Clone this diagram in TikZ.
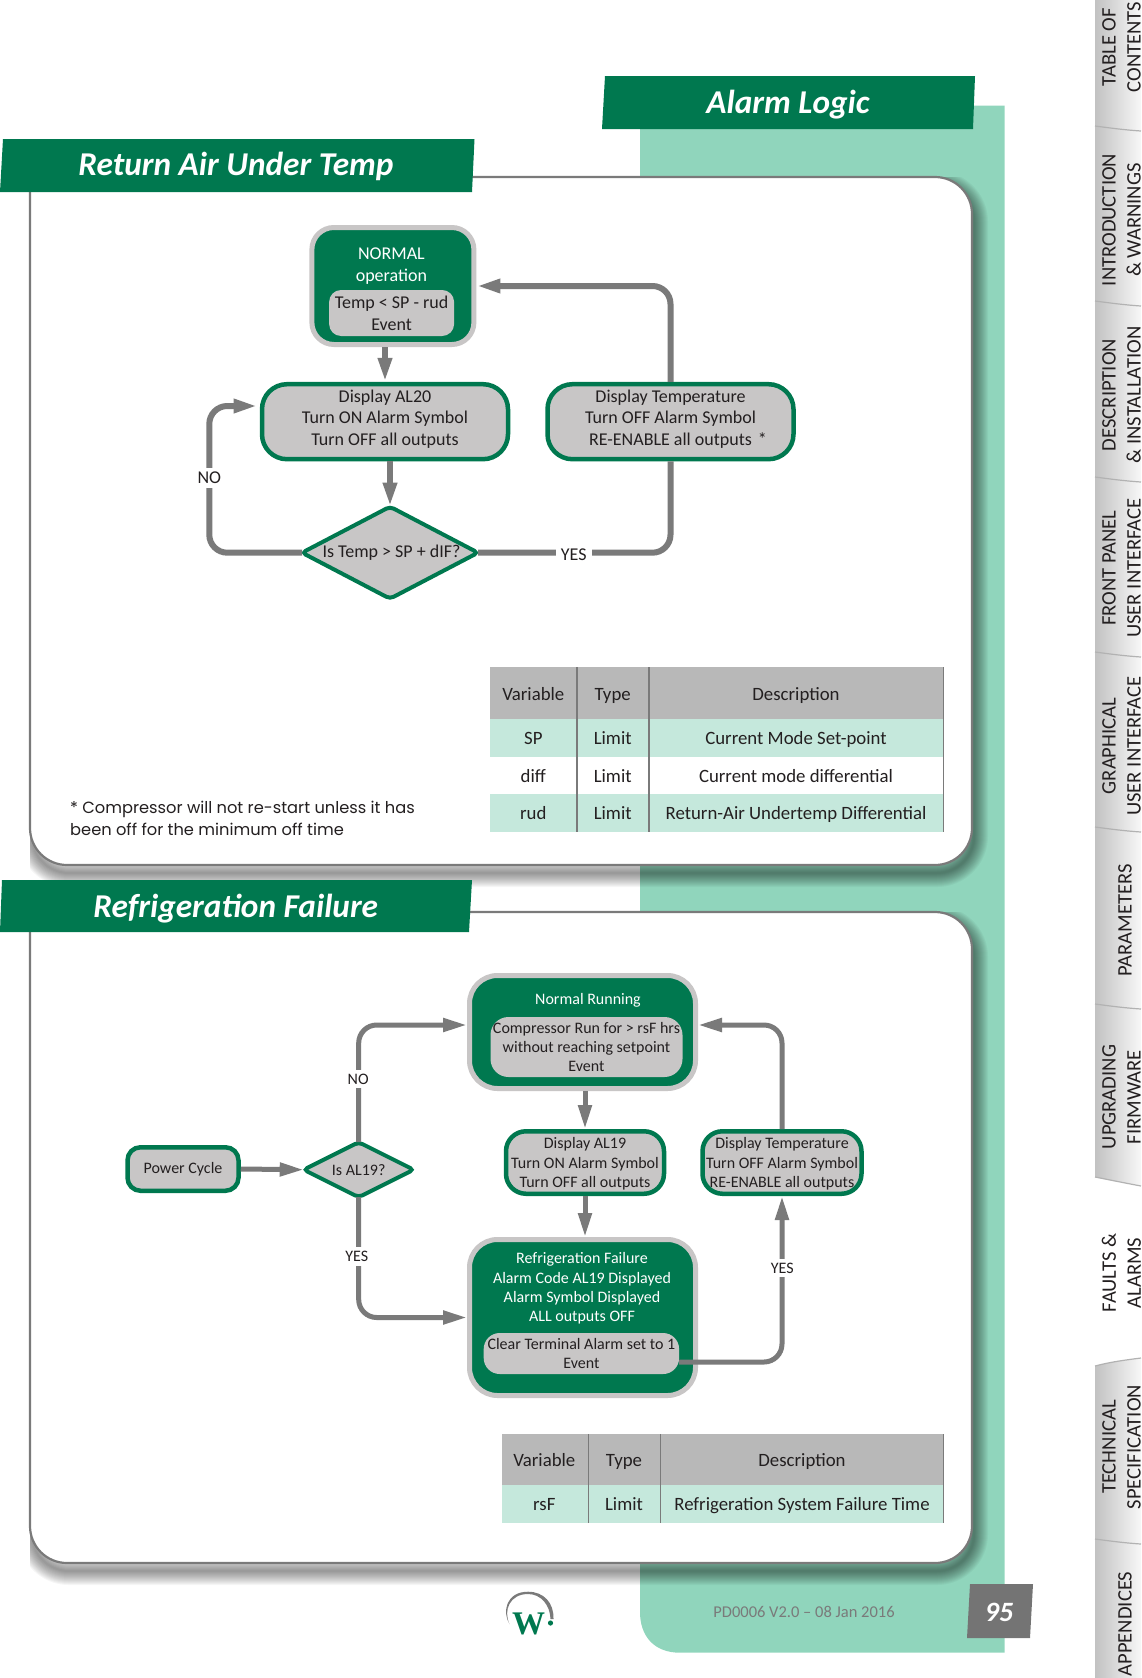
\documentclass[tikz,border=0pt]{standalone}
\usepackage{fontspec}
\setmainfont{Carlito}
\newfontfamily\noteface{Poppins}
\newfontfamily\logoface{Liberation Serif}
\usetikzlibrary{arrows.meta,shapes.geometric}

\definecolor{wgreen}{HTML}{00784F}
\definecolor{wmint}{HTML}{90D5BC}
\definecolor{wpale}{HTML}{C5E8DC}
\definecolor{wgray}{HTML}{C8C6C6}
\definecolor{warrow}{HTML}{7A7A7A}
\definecolor{whead}{HTML}{B8B8B8}
\definecolor{wink}{HTML}{231F20}

\tikzset{
  normalbox/.style={rectangle,draw=wgray,fill=wgreen,line width=5pt,inner sep=0pt},
  statebox/.style={rectangle,draw=wgreen,fill=wgray,line width=4.5pt,inner sep=0pt,text=wink,align=center},
  eventbox/.style={rectangle,fill=wgray,inner sep=0pt,text=wink,align=center},
  decision/.style={diamond,draw=wgreen,fill=wgray,line width=4pt,inner sep=0pt,outer sep=0pt,rounded corners=4pt,text=wink},
  flowline/.style={draw=warrow,line width=6pt,rounded corners=18pt},
  flowarrow/.style={flowline,-{Triangle[length=24pt,width=13pt]}},
  flowlabel/.style={fill=white,inner xsep=5pt,inner ysep=4pt,text=wink},
  fontA/.style={font=\fontsize{18}{21.7}\selectfont},
  fontB/.style={font=\fontsize{16}{19.2}\selectfont},
  whitetext/.style={text=white,align=center},
  bannertext/.style={text=white,font=\fontsize{33.3}{36}\selectfont\bfseries\itshape},
  tablehead/.style={text=wink,text height=12pt,text depth=4pt,font=\fontsize{18.8}{22}\selectfont},
  tablabel/.style={rotate=90,align=center,text=wink,font=\fontsize{20.6}{25}\selectfont},
  tabline/.style={draw=black!30,line width=1.2pt},
  colline/.style={draw=warrow,line width=2pt}
}

\begin{document}
\begin{tikzpicture}[x=1pt,y=-1pt]
\clip (0,0) rectangle (1141,1678);

% page background
\fill[wmint] (640,105.7) -- (1004.5,105.7) -- (1004.5,1652.7) -- (680,1652.7)
  .. controls (654,1652.7) and (640,1636) .. (640,1612) -- cycle;

% side tabs
\shade[left color=black!24,middle color=black!9,right color=black!3]
  (1095,0) -- (1141,0) -- (1141,1186) .. controls (1125,1183) and (1110,1180) .. (1095,1177) -- cycle;
\shade[left color=black!24,middle color=black!9,right color=black!3]
  (1095,1366) .. controls (1110,1362) and (1125,1360) .. (1141,1358) -- (1141,1678) -- (1095,1678) -- cycle;
\foreach \sy in {126,301,477,652,827,1004,1539}
  \draw[tabline] (1095,\sy) .. controls (1110,\sy+2) and (1125,\sy+4) .. (1141,\sy+5);
\draw[tabline] (1095,1177) .. controls (1110,1180) and (1125,1183) .. (1141,1186);
\draw[tabline] (1095,1366) .. controls (1110,1362) and (1125,1360) .. (1141,1358);
\foreach \i/\tx/\ty/\ttext in {
  1/1121.5/47/{TABLE OF\\CONTENTS},
  2/1121.5/220/{INTRODUCTION\\\& WARNINGS},
  3/1121.5/395/{DESCRIPTION\\\& INSTALLATION},
  4/1121.5/568/{FRONT PANEL\\USER INTERFACE},
  5/1121.5/746/{GRAPHICAL\\USER INTERFACE},
  6/1125/920.5/{PARAMETERS},
  7/1121.5/1097/{UPGRADING\\FIRMWARE},
  8/1121.5/1273/{FAULTS \&\\ALARMS},
  9/1121.5/1447/{TECHNICAL\\SPECIFICATION},
  10/1125/1624/{APPENDICES}}
  \node[tablabel] (tab\i) at (\tx,\ty) {\ttext};

% panels
\foreach \ptop/\pbot in {177/865,912/1563} {
  \begin{scope}
    \clip (30,\ptop) rectangle (1141,1678);
    \foreach \w in {2,4,...,28}
      \draw[black,opacity=0.035,line width=\w pt,rounded corners=37pt]
        (32,\ptop+8) -- (974,\ptop+8) -- (974,\pbot+8) -- (32,\pbot+8) -- (32,\ptop+8);
  \end{scope}
  \draw[draw=warrow,fill=white,line width=2.2pt,rounded corners=37pt]
    (30,\ptop) -- (972,\ptop) -- (972,\pbot) -- (30,\pbot) -- (30,\ptop);
}

% banners
\fill[wgreen] (605,76) -- (975,76) -- (973,129) -- (602,129) -- cycle;
\fill[wgreen] (3,139) -- (474.5,139) -- (472,192) -- (0,192) -- cycle;
\fill[wgreen] (2,880) -- (472,880) -- (469,932) -- (0,932) -- cycle;
\node[bannertext] (titlepage) at (788,105) {Alarm Logic};
\node[bannertext] (titleA) at (236,166) {Return Air Under Temp};
\node[bannertext] (titleB) at (235.7,909) {Refrigeration Failure};

% first flow chart
\node[normalbox,minimum width=162pt,minimum height=117pt,rounded corners=22pt] (normalA) at (392.9,286) {};
\node[whitetext,fontA] (normalAtext) at (391.4,266) {NORMAL\\operation};
\node[eventbox,fontA,minimum width=125pt,minimum height=46pt,rounded corners=12pt] (eventA) at (391.6,313) {Temp < SP - rud\\Event};
\node[statebox,fontA,text depth=8pt,minimum width=246pt,minimum height=75pt,rounded corners=25pt] (alarmA) at (385,421.7) {Display AL20\\Turn ON Alarm Symbol\\Turn OFF all outputs};
\node[statebox,fontA,text depth=8pt,minimum width=246pt,minimum height=75pt,rounded corners=25pt] (tempA) at (670.5,421.7) {Display Temperature\\Turn OFF Alarm Symbol\\RE-ENABLE all outputs\rlap{\hspace{6pt}*}};
\node[decision,fontA,aspect=1.9,minimum width=176pt,minimum height=92pt] (askA) at (390,552.7) {\hspace{3pt}Is Temp > SP + dIF?};
\coordinate (alarmAin) at (257.6,406);

\draw[flowarrow] (alarmA.north |- normalA.south) -- (alarmA.north);
\draw[flowarrow] (askA.north |- alarmA.south) -- (askA.north);
\draw[flowarrow] (tempA.north) |- (normalA.east);
\draw[flowline] (askA.east) -| (tempA.south);
\draw[flowarrow] (askA.west) -- (209.3,552.7) |- (alarmAin);
\node[flowlabel,fontA] (yesA) at (573.7,555) {YES};
\node[flowlabel,fontA] (noA) at (209.3,478) {NO};

% first table
\fill[whead] (490,667.3) rectangle (943.7,719.3);
\fill[wpale] (490,719.3) rectangle (943.7,756.7);
\fill[wpale] (490,794) rectangle (943.7,831.7);
\draw[colline] (577,667.3) -- (577,831.7);
\draw[colline] (649,667.3) -- (649,831.7);
\draw[draw=warrow,line width=0.8pt] (943.7,667.3) -- (943.7,831.7);
\node[tablehead] (varA) at (533.3,696) {Variable};
\node[tablehead] (typeA) at (612.7,696) {Type};
\node[tablehead] (descA) at (796,696) {Description};
\foreach \i/\ry/\rv/\rd in {1/740/SP/Current Mode Set-point,2/778/diff/Current mode differential,3/815.7/rud/Return-Air Undertemp Differential} {
  \node[tablehead] (varA\i) at (533.3,\ry) {\rv};
  \node[tablehead] (typeA\i) at (612.7,\ry) {Limit};
  \node[tablehead] (descA\i) at (796,\ry) {\rd};
}

% footnote
\node[anchor=west,align=left,text=wink,inner sep=0pt,font=\fontsize{16.25}{21.3}\selectfont\noteface] (starnote) at (70,818.5)
  {* Compressor will not re-start unless it has\\been off for the minimum off time};

% second flow chart
\node[normalbox,minimum width=226pt,minimum height=113pt,rounded corners=28pt] (normalB) at (582.5,1032) {};
\node[whitetext,fontB] (normalBtext) at (588,1000) {Normal Running};
\node[eventbox,fontB,text depth=-4pt,minimum width=192pt,minimum height=60pt,rounded corners=18pt] (eventB) at (586.5,1047) {Compressor Run for > rsF hrs\\without reaching setpoint\\Event};
\node[statebox,fontB,text depth=0pt,minimum width=158pt,minimum height=62.5pt,rounded corners=20pt] (alarmB) at (585,1162.5) {Display AL19\\Turn ON Alarm Symbol\\Turn OFF all outputs};
\node[statebox,fontB,text depth=0pt,minimum width=159pt,minimum height=62.5pt,rounded corners=20pt] (tempB) at (782,1162.5) {Display Temperature\\Turn OFF Alarm Symbol\\RE-ENABLE all outputs};
\node[statebox,fontB,minimum width=111pt,minimum height=43.5pt,rounded corners=13pt] (powerB) at (183,1169) {Power Cycle};
\node[decision,fontB,aspect=1.96,minimum width=110pt,minimum height=55pt] (askB) at (358.7,1169.7) {Is AL19?};
\node[normalbox,minimum width=226pt,minimum height=156pt,rounded corners=28pt] (failB) at (582.5,1317.5) {};
\node[whitetext,fontB] (failBtext) at (582,1288.5) {Refrigeration Failure\\Alarm Code AL19 Displayed\\Alarm Symbol Displayed\\ALL outputs OFF};
\node[eventbox,fontB,text depth=-4pt,minimum width=195.4pt,minimum height=41pt,rounded corners=16pt] (eventC) at (581.4,1353.5) {Clear Terminal Alarm set to 1\\Event};
\coordinate (normalBl) at (467,1025);
\coordinate (normalBr) at (698,1025);
\coordinate (eventCout) at (679,1362);

\draw[flowarrow,line width=5pt] (powerB.east) -- (askB.west);
\draw[flowarrow,line width=5pt] (askB.north) |- (normalBl);
\draw[flowarrow,line width=5pt] (askB.south) |- (failB.west);
\draw[flowarrow,line width=5pt] (alarmB.south |- normalB.south) -- (alarmB.north);
\draw[flowarrow,line width=5pt] (alarmB.south) -- (alarmB.south |- failB.north);
\draw[flowarrow,line width=5pt] (tempB.north) |- (normalBr);
\draw[flowarrow,line width=5pt] (eventCout) -| (tempB.south);
\node[flowlabel,fontB] (noB) at (358.2,1079) {NO};
\node[flowlabel,fontB] (yesB) at (356.7,1256.7) {YES};
\node[flowlabel,fontB] (yesC) at (782.2,1268) {YES};

% second table
\fill[whead] (502,1434) rectangle (943.7,1485);
\fill[wpale] (502,1485) rectangle (943.7,1522.7);
\draw[draw=warrow,line width=1.2pt] (588.3,1434) -- (588.3,1522.7);
\draw[draw=warrow,line width=1.2pt] (660.3,1434) -- (660.3,1522.7);
\draw[draw=warrow,line width=0.8pt] (943.7,1434) -- (943.7,1522.7);
\node[tablehead] (varB) at (544.3,1462) {Variable};
\node[tablehead] (typeB) at (624,1462) {Type};
\node[tablehead] (descB) at (802,1462) {Description};
\node[tablehead] (varB1) at (544.3,1506.3) {rsF};
\node[tablehead] (typeB1) at (624,1506.3) {Limit};
\node[tablehead] (descB1) at (802,1506.3) {Refrigeration System Failure Time};

% footer
\node[text=warrow,font=\fontsize{16.5}{20}\selectfont] (version) at (804,1611.7) {PD0006 V2.0 -- 08 Jan 2016};
\fill[warrow!95!black] (970,1584) -- (1033,1584) -- (1030,1638) -- (967,1638) -- cycle;
\node[text=white,font=\fontsize{28}{30}\selectfont\bfseries\itshape] (pageno) at (999,1612) {95};
\begin{scope}[xshift=-2pt]
\fill[warrow] (511.5,1624) .. controls (504,1612) and (508,1591.7) .. (530,1591.7)
  .. controls (546,1591.7) and (556,1603) .. (555.5,1619) -- (552.5,1619)
  .. controls (552,1605) and (543,1594) .. (530,1594)
  .. controls (512,1594) and (505,1610) .. cycle;
\fill[wgreen] (552.5,1623) circle[radius=2.6pt];
\node[text=wgreen,font=\fontsize{33}{33}\selectfont\logoface\bfseries] (logo) at (530.6,1624) {W};
\end{scope}
\end{tikzpicture}
\end{document}
